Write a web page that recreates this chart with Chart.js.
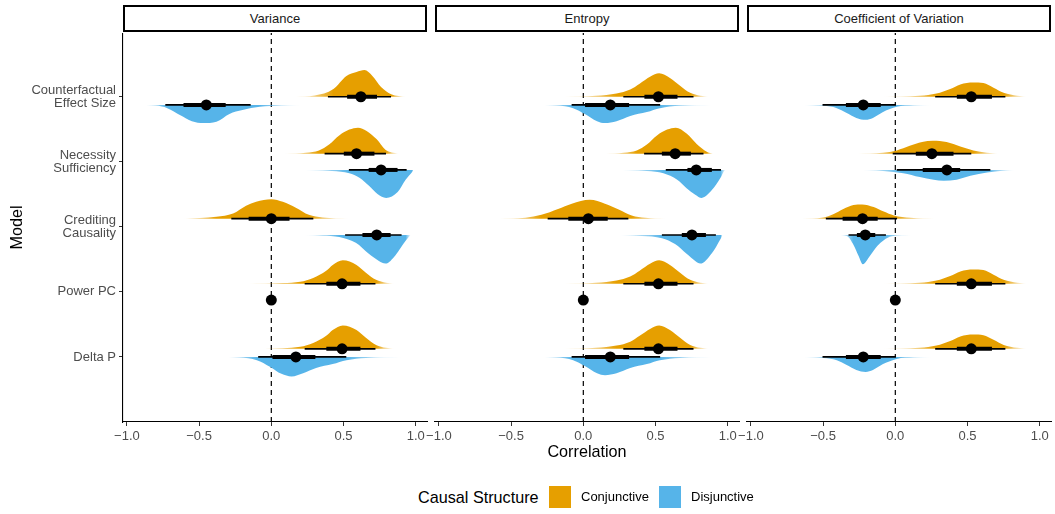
<!DOCTYPE html>
<html>
<head>
<meta charset="utf-8">
<title>Correlation by model and causal structure</title>
<script src="https://cdn.jsdelivr.net/npm/chart.js@4.4.1/dist/chart.umd.min.js"></script>
<style>
  body { margin: 0; background: #fff; font-family: "Liberation Sans", Arial, sans-serif; }
  #wrap { position: relative; width: 1055px; height: 514px; overflow: hidden; }
  canvas { position: absolute; top: 33px; }
  .strip {
    position: absolute; top: 5px; width: 304px; height: 27px;
    box-sizing: border-box; border: 2px solid #000;
    text-align: center; font-size: 13px; line-height: 23px; color: #1a1a1a;
  }
  .leg { position: absolute; top: 486px; height: 22px; line-height: 22px; white-space: nowrap; }
  .leg-title { font-size: 16.2px; color: #000; }
  .leg-text { font-size: 13px; color: #000; }
  .swatch { position: absolute; top: 486px; width: 22px; height: 22px; }
</style>
</head>
<body>
<div id="wrap">
  <div class="strip" style="left:123px">Variance</div>
  <div class="strip" style="left:435px">Entropy</div>
  <div class="strip" style="left:747px">Coefficient of Variation</div>

  <canvas id="c0" width="439" height="440" style="left:0px"></canvas>
  <canvas id="c1" width="328" height="440" style="left:423px"></canvas>
  <canvas id="c2" width="320" height="440" style="left:735px"></canvas>

  <div class="leg leg-title" style="left:418px">Causal Structure</div>
  <div class="swatch" style="left:549px;background:#E69F00"></div>
  <div class="leg leg-text" style="left:581px">Conjunctive</div>
  <div class="swatch" style="left:659px;background:#56B4E9"></div>
  <div class="leg leg-text" style="left:691px">Disjunctive</div>
</div>

<script>
/* =========================
   DATA
========================= */

const categories = [
  "Counterfactual\nEffect Size",
  "Necessity\nSufficiency",
  "Crediting\nCausality",
  "Power PC",
  "Delta P"
];

const xTicks = [-1, -0.5, 0, 0.5, 1];

// Variance - Conjunctive
const varConjMedian = [0.62, 0.59, 0.0, 0.49, 0.49];
const varConjInner = [[0.525, 0.732], [0.502, 0.714], [-0.157, 0.126], [0.381, 0.617], [0.381, 0.617]];
const varConjOuter = [[0.392, 0.829], [0.369, 0.794], [-0.277, 0.291], [0.231, 0.721], [0.231, 0.721]];
const varConjDensity = [
  [[0.16, 0], [0.30, 0.02], [0.43, 0.12], [0.52, 0.32], [0.59, 0.38], [0.645, 0.41], [0.70, 0.32], [0.76, 0.15], [0.83, 0.04], [0.935, 0]],
  [[0.09, 0], [0.24, 0.015], [0.33, 0.05], [0.40, 0.14], [0.47, 0.28], [0.54, 0.37], [0.60, 0.40], [0.66, 0.35], [0.73, 0.22], [0.79, 0.06], [0.88, 0]],
  [[-0.61, 0], [-0.38, 0.03], [-0.265, 0.08], [-0.175, 0.20], [-0.105, 0.26], [0.0, 0.30], [0.08, 0.26], [0.17, 0.17], [0.26, 0.06], [0.355, 0.02], [0.54, 0]],
  [[-0.17, 0], [0.08, 0.01], [0.20, 0.03], [0.29, 0.09], [0.38, 0.20], [0.425, 0.29], [0.495, 0.36], [0.59, 0.29], [0.655, 0.17], [0.725, 0.06], [0.795, 0.015], [0.85, 0]],
  [[-0.17, 0], [0.08, 0.01], [0.20, 0.03], [0.29, 0.09], [0.38, 0.20], [0.425, 0.29], [0.495, 0.36], [0.59, 0.29], [0.655, 0.17], [0.725, 0.06], [0.795, 0.015], [0.85, 0]]
];

// Variance - Disjunctive
const varDisjMedian = [-0.45, 0.76, 0.73, 0.0, 0.17];
const varDisjInner = [[-0.608, -0.316], [0.674, 0.874], [0.631, 0.826], null, [0.008, 0.305]];
const varDisjOuter = [[-0.734, -0.143], [0.537, 0.937], [0.511, 0.902], null, [-0.091, 0.519]];
const varDisjDensity = [
  [[-0.93, 0], [-0.80, 0.01], [-0.72, 0.05], [-0.63, 0.16], [-0.55, 0.25], [-0.47, 0.28], [-0.38, 0.26], [-0.29, 0.14], [-0.20, 0.08], [-0.08, 0.03], [0.07, 0.01], [0.21, 0]],
  [[0.17, 0], [0.42, 0.015], [0.54, 0.05], [0.61, 0.12], [0.68, 0.25], [0.735, 0.37], [0.795, 0.43], [0.875, 0.34], [0.93, 0.15], [0.975, 0.03], [0.985, 0]],
  [[0.22, 0], [0.355, 0.01], [0.47, 0.03], [0.585, 0.12], [0.675, 0.29], [0.745, 0.40], [0.79, 0.44], [0.86, 0.31], [0.93, 0.09], [0.965, 0]],
  null,
  [[-0.37, 0], [-0.22, 0.01], [-0.10, 0.05], [-0.01, 0.15], [0.07, 0.26], [0.14, 0.30], [0.22, 0.25], [0.31, 0.17], [0.425, 0.11], [0.52, 0.05], [0.655, 0.015], [0.91, 0]]
];

// Entropy - Conjunctive
const entConjMedian = [0.52, 0.636, 0.035, 0.52, 0.52];
const entConjInner = [[0.423, 0.652], [0.544, 0.745], [-0.104, 0.169], [0.423, 0.652], [0.423, 0.652]];
const entConjOuter = [[0.277, 0.763], [0.421, 0.832], [-0.247, 0.312], [0.277, 0.763], [0.277, 0.763]];
const entConjDensity = [
  [[-0.14, 0], [0.09, 0.015], [0.23, 0.05], [0.325, 0.11], [0.39, 0.20], [0.465, 0.31], [0.525, 0.36], [0.60, 0.29], [0.67, 0.17], [0.74, 0.06], [0.81, 0.015], [0.87, 0]],
  [[0.15, 0], [0.28, 0.015], [0.37, 0.05], [0.44, 0.14], [0.51, 0.28], [0.58, 0.37], [0.64, 0.40], [0.715, 0.31], [0.785, 0.15], [0.855, 0.03], [0.90, 0]],
  [[-0.59, 0], [-0.40, 0.015], [-0.29, 0.06], [-0.175, 0.15], [-0.08, 0.23], [0.045, 0.29], [0.15, 0.23], [0.245, 0.14], [0.335, 0.05], [0.43, 0.015], [0.57, 0]],
  [[-0.14, 0], [0.09, 0.015], [0.23, 0.05], [0.325, 0.11], [0.39, 0.20], [0.465, 0.31], [0.525, 0.36], [0.60, 0.29], [0.67, 0.17], [0.74, 0.06], [0.81, 0.015], [0.87, 0]],
  [[-0.14, 0], [0.09, 0.015], [0.23, 0.05], [0.325, 0.11], [0.39, 0.20], [0.465, 0.31], [0.525, 0.36], [0.60, 0.29], [0.67, 0.17], [0.74, 0.06], [0.81, 0.015], [0.87, 0]]
];

// Entropy - Disjunctive
const entDisjMedian = [0.187, 0.782, 0.752, 0.0, 0.187];
const entDisjInner = [[0.012, 0.317], [0.721, 0.89], [0.682, 0.849], null, [0.012, 0.317]];
const entDisjOuter = [[-0.081, 0.532], [0.571, 0.953], [0.544, 0.918], null, [-0.081, 0.532]];
const entDisjDensity = [
  [[-0.35, 0], [-0.185, 0.01], [-0.07, 0.05], [0.01, 0.14], [0.095, 0.25], [0.15, 0.28], [0.23, 0.25], [0.325, 0.17], [0.44, 0.11], [0.53, 0.05], [0.67, 0.015], [0.90, 0]],
  [[0.21, 0], [0.44, 0.015], [0.555, 0.05], [0.65, 0.15], [0.715, 0.28], [0.775, 0.38], [0.82, 0.43], [0.89, 0.31], [0.95, 0.12], [0.975, 0.015], [0.985, 0]],
  [[0.245, 0], [0.405, 0.015], [0.545, 0.05], [0.635, 0.14], [0.715, 0.29], [0.775, 0.40], [0.81, 0.44], [0.89, 0.28], [0.95, 0.06], [0.965, 0]],
  null,
  [[-0.35, 0], [-0.185, 0.01], [-0.07, 0.05], [0.01, 0.14], [0.095, 0.25], [0.15, 0.28], [0.23, 0.25], [0.325, 0.17], [0.44, 0.11], [0.53, 0.05], [0.67, 0.015], [0.90, 0]]
];

// Coefficient of Variation - Conjunctive
const cvConjMedian = [0.526, 0.253, -0.227, 0.526, 0.526];
const cvConjInner = [[0.426, 0.669], [0.142, 0.403], [-0.365, -0.122], [0.426, 0.669], [0.426, 0.669]];
const cvConjOuter = [[0.276, 0.762], [-0.018, 0.526], [-0.481, 0.012], [0.276, 0.762], [0.276, 0.762]];
const cvConjDensity = [
  [[-0.09, 0], [0.17, 0.015], [0.285, 0.05], [0.38, 0.12], [0.45, 0.19], [0.54, 0.22], [0.61, 0.21], [0.68, 0.14], [0.75, 0.06], [0.845, 0.015], [0.91, 0]],
  [[-0.27, 0], [-0.085, 0.015], [0.01, 0.05], [0.10, 0.12], [0.185, 0.18], [0.26, 0.20], [0.355, 0.18], [0.45, 0.11], [0.54, 0.05], [0.635, 0.015], [0.715, 0]],
  [[-0.65, 0], [-0.50, 0.02], [-0.43, 0.07], [-0.36, 0.15], [-0.29, 0.21], [-0.23, 0.22], [-0.15, 0.18], [-0.08, 0.11], [-0.01, 0.05], [0.105, 0.015], [0.28, 0]],
  [[-0.09, 0], [0.17, 0.015], [0.285, 0.05], [0.38, 0.12], [0.45, 0.19], [0.54, 0.22], [0.61, 0.21], [0.68, 0.14], [0.75, 0.06], [0.845, 0.015], [0.91, 0]],
  [[-0.09, 0], [0.17, 0.015], [0.285, 0.05], [0.38, 0.12], [0.45, 0.19], [0.54, 0.22], [0.61, 0.21], [0.68, 0.14], [0.75, 0.06], [0.845, 0.015], [0.91, 0]]
];

// Coefficient of Variation - Disjunctive
const cvDisjMedian = [-0.222, 0.357, -0.208, 0.0, -0.222];
const cvDisjInner = [[-0.342, -0.101], [0.19, 0.449], [-0.266, -0.139], null, [-0.342, -0.101]];
const cvDisjOuter = [[-0.504, 0.005], [0.01, 0.658], [-0.324, -0.065], null, [-0.504, 0.005]];
const cvDisjDensity = [
  [[-0.675, 0], [-0.50, 0.015], [-0.405, 0.05], [-0.34, 0.12], [-0.27, 0.20], [-0.205, 0.23], [-0.155, 0.20], [-0.085, 0.11], [0.01, 0.03], [0.125, 0.01], [0.255, 0]],
  [[-0.27, 0], [-0.085, 0.015], [0.055, 0.05], [0.17, 0.11], [0.265, 0.15], [0.335, 0.165], [0.425, 0.15], [0.52, 0.09], [0.635, 0.04], [0.725, 0.015], [0.83, 0]],
  [[-0.395, 0], [-0.335, 0.015], [-0.29, 0.15], [-0.255, 0.32], [-0.225, 0.45], [-0.175, 0.32], [-0.125, 0.17], [-0.08, 0.08], [-0.025, 0.02], [0.115, 0]],
  null,
  [[-0.675, 0], [-0.50, 0.015], [-0.405, 0.05], [-0.34, 0.12], [-0.27, 0.20], [-0.205, 0.23], [-0.155, 0.20], [-0.085, 0.11], [0.01, 0.03], [0.125, 0.01], [0.255, 0]]
];

/* =========================
   STYLE / LAYOUT
========================= */

const FONT = '"Liberation Sans", Arial, sans-serif';
const ORANGE = "#E69F00";
const BLUE = "#56B4E9";

const X_MIN = -1.027;
const X_MAX = 1.078;
const Y_MAX = 5.98;

// tails thinner than this fade out
const FADE_LEVEL = 0.03;

// dodge of each structure around the row position
const conjShift = [0, 0.125, 0.125, 0.125, 0.125];
const disjShift = [-0.125, -0.125, -0.125, -0.125, 0];

const facets = [
  {
    conj: { median: varConjMedian, inner: varConjInner, outer: varConjOuter, dens: varConjDensity },
    disj: { median: varDisjMedian, inner: varDisjInner, outer: varDisjOuter, dens: varDisjDensity }
  },
  {
    conj: { median: entConjMedian, inner: entConjInner, outer: entConjOuter, dens: entConjDensity },
    disj: { median: entDisjMedian, inner: entDisjInner, outer: entDisjOuter, dens: entDisjDensity }
  },
  {
    conj: { median: cvConjMedian, inner: cvConjInner, outer: cvConjOuter, dens: cvConjDensity },
    disj: { median: cvDisjMedian, inner: cvDisjInner, outer: cvDisjOuter, dens: cvDisjDensity }
  }
];

function rgba(hex, a) {
  const n = parseInt(hex.slice(1), 16);
  return `rgba(${(n >> 16) & 255},${(n >> 8) & 255},${n & 255},${a})`;
}

// density fill that fades out over the thin tails only
function fadeFill(color, dens) {
  const lo = dens[0][0];
  const hi = dens[dens.length - 1][0];
  let a = dens.findIndex(p => p[1] >= FADE_LEVEL);
  let b = dens.length - 1;
  while (b > 0 && dens[b][1] < FADE_LEVEL) b--;
  if (a < 0) { a = 0; b = dens.length - 1; }
  const inStop = (dens[a][0] - lo) / (hi - lo);
  const outStop = (dens[b][0] - lo) / (hi - lo);

  return (ctx) => {
    const chart = ctx.chart;
    if (!chart.chartArea || !chart.scales.x) return color;
    const sx = chart.scales.x;
    const x0 = sx.getPixelForValue(lo);
    const x1 = sx.getPixelForValue(hi);
    if (!isFinite(x0) || !isFinite(x1) || x1 <= x0) return color;
    const g = chart.ctx.createLinearGradient(x0, 0, x1, 0);
    g.addColorStop(0, rgba(color, 0));
    g.addColorStop(Math.max(inStop, 0.001), color);
    g.addColorStop(Math.min(Math.max(outStop, inStop + 0.001), 0.999), color);
    g.addColorStop(1, rgba(color, 0));
    return g;
  };
}

function fmtTick(v) {
  if (Math.abs(v) < 1e-9) return "0.0";
  return (v < 0 ? "\u2212" : "") + Math.abs(v).toFixed(1);
}

/* =========================
   DATASETS
========================= */

function buildDatasets(facet) {
  const sets = [];

  sets.push({
    type: "line",
    data: [{ x: 0, y: 0 }, { x: 0, y: Y_MAX }],
    borderColor: "#000",
    borderWidth: 1.2,
    borderDash: [5, 4],
    pointRadius: 0,
    order: 100
  });

  const groups = [
    { s: facet.conj, color: ORANGE, sign: 1, shift: conjShift },
    { s: facet.disj, color: BLUE, sign: -1, shift: disjShift }
  ];

  groups.forEach(g => {
    categories.forEach((cat, i) => {
      const y0 = categories.length - i + g.shift[i];
      const dens = g.s.dens[i];

      if (dens) {
        sets.push({
          type: "line",
          data: dens.map(([x, h]) => ({ x: x, y: y0 + g.sign * h })),
          fill: { value: y0 },
          backgroundColor: fadeFill(g.color, dens),
          borderWidth: 0,
          borderColor: "rgba(0,0,0,0)",
          pointRadius: 0,
          cubicInterpolationMode: "monotone",
          order: 50
        });
      }

      if (g.s.outer[i]) {
        sets.push({
          type: "line",
          data: g.s.outer[i].map(x => ({ x: x, y: y0 })),
          borderColor: "#000",
          borderWidth: 1.7,
          borderCapStyle: "butt",
          pointRadius: 0,
          order: 30
        });
      }

      if (g.s.inner[i]) {
        sets.push({
          type: "line",
          data: g.s.inner[i].map(x => ({ x: x, y: y0 })),
          borderColor: "#000",
          borderWidth: 4,
          borderCapStyle: "butt",
          pointRadius: 0,
          order: 20
        });
      }

      sets.push({
        type: "scatter",
        data: [{ x: g.s.median[i], y: y0 }],
        backgroundColor: "#000",
        borderWidth: 0,
        pointRadius: 5.5,
        order: 10
      });
    });
  });

  return sets;
}

/* =========================
   CHARTS
========================= */

facets.forEach((facet, k) => {

  const yScale = k === 0
    ? {
        type: "linear",
        min: 0,
        max: Y_MAX,
        afterBuildTicks: (s) => {
          s.ticks = categories.map((c, i) => ({ value: categories.length - i }));
        },
        afterFit: (s) => {
          s.width = 123;
          s.paddingTop = 0;
          s.paddingBottom = 0;
        },
        ticks: {
          autoSkip: false,
          padding: 3,
          color: "#4d4d4d",
          font: { family: FONT, size: 13, lineHeight: 1.0 },
          callback: (v) => categories[categories.length - v].split("\n")
        },
        grid: { drawOnChartArea: false, drawTicks: true, tickLength: 4, color: "#333" },
        border: { display: true, color: "#000", width: 1.1 },
        title: {
          display: true,
          text: "Model",
          color: "#000",
          font: { family: FONT, size: 16.2 },
          padding: { top: 8, bottom: 0 }
        }
      }
    : { type: "linear", min: 0, max: Y_MAX, display: false };

  new Chart(document.getElementById("c" + k), {
    type: "scatter",
    data: { datasets: buildDatasets(facet) },
    options: {
      responsive: false,
      animation: false,
      devicePixelRatio: 1,
      layout: {
        autoPadding: false,
        padding: { left: k === 0 ? 0 : 12, right: k === 2 ? 4 : 12, top: 0, bottom: 0 }
      },
      plugins: {
        legend: { display: false },
        tooltip: { enabled: false }
      },
      scales: {
        x: {
          type: "linear",
          min: X_MIN,
          max: X_MAX,
          afterBuildTicks: (s) => {
            s.ticks = xTicks.map(v => ({ value: v }));
          },
          afterFit: (s) => {
            s.height = 51;
            s.paddingLeft = 0;
            s.paddingRight = 0;
          },
          ticks: {
            autoSkip: false,
            maxRotation: 0,
            padding: 3,
            color: "#4d4d4d",
            font: { family: FONT, size: 13 },
            callback: (v) => fmtTick(v)
          },
          grid: { drawOnChartArea: false, drawTicks: true, tickLength: 4, color: "#333" },
          border: { display: true, color: "#000", width: 1.1 },
          title: {
            display: k === 1,
            text: "Correlation",
            color: "#000",
            font: { family: FONT, size: 16.2 },
            padding: { top: 0, bottom: 11 }
          }
        },
        y: yScale
      }
    }
  });

});
</script>
</body>
</html>
